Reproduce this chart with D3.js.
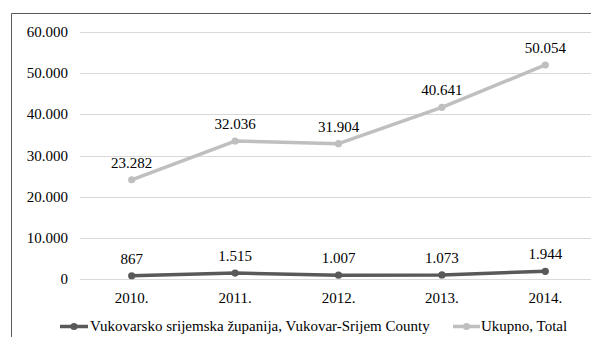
<!DOCTYPE html>
<html><head><meta charset="utf-8">
<script src="https://cdn.jsdelivr.net/npm/d3@7"></script>
<style>body{margin:0;background:#fff}svg{display:block}</style>
</head><body>
<svg id="c" width="591" height="337"></svg>
<script>
const categories = ["2010.", "2011.", "2012.", "2013.", "2014."];
const seriesNames = ["Vukovarsko srijemska županija, Vukovar-Srijem County", "Ukupno, Total"];
const county = [867, 1515, 1007, 1073, 1944];
const total = [23282, 32036, 31904, 40641, 50054];
const yTicks = [0, 10000, 20000, 30000, 40000, 50000, 60000];
const colors = ["#595959", "#bfbfbf"];

const svg = d3.select("#c");
const W = 591, H = 337;
const FS = 15;
const FONT = "Liberation Serif";
const plot = {l: 80, r: 597, t: 32, b: 279.3};
const fmt = v => d3.format(",")(v).replace(/,/g, ".");

svg.append("rect").attr("width", W).attr("height", H).attr("fill", "#fff");
svg.append("path").attr("d", `M11.5,${H}V13.5H${W}`).attr("fill", "none").attr("stroke", "#595959").attr("stroke-width", 1);

const x = d3.scaleBand().domain(categories).range([plot.l, plot.r]);
const y = d3.scaleLinear().domain([0, 60000]).range([plot.b, plot.t]);

function txt(g, tx, ty, s, anchor) {
  return g.append("text").attr("x", tx).attr("y", ty)
    .attr("text-anchor", anchor || "middle").attr("dy", "0.33em")
    .attr("font-family", FONT).attr("fill", "#000")
    .attr("font-size", FS).text(s);
}

svg.append("g").selectAll("line").data(yTicks).join("line")
  .attr("x1", plot.l).attr("x2", plot.r)
  .attr("y1", d => Math.round(y(d)) + 0.5).attr("y2", d => Math.round(y(d)) + 0.5)
  .attr("stroke", "#d9d9d9").attr("stroke-width", 1);

const gy = svg.append("g");
yTicks.forEach(t => txt(gy, 68, y(t), fmt(t), "end"));
const gx = svg.append("g");
categories.forEach(c => txt(gx, x(c) + x.bandwidth() / 2, 298.5, c));

const rows = categories.map((c, i) => ({cat: c, a: county[i], b: total[i]}));
const stack = d3.stack().keys(["a", "b"])(rows);
const line = d3.line().x((d, i) => x(categories[i]) + x.bandwidth() / 2).y(d => y(d[1]));
const labels = [county, total];
stack.forEach((s, k) => {
  svg.append("path").datum(s).attr("d", line).attr("fill", "none")
    .attr("stroke", colors[k]).attr("stroke-width", 3.5).attr("stroke-linejoin", "round");
  svg.append("g").selectAll("circle").data(s).join("circle")
    .attr("cx", (d, i) => x(categories[i]) + x.bandwidth() / 2).attr("cy", d => y(d[1]))
    .attr("r", 3.6).attr("fill", colors[k]);
  const gl = svg.append("g");
  s.forEach((d, i) => txt(gl, x(categories[i]) + x.bandwidth() / 2, y(d[1]) - 17, fmt(labels[k][i])));
});

const leg = [{x0: 60, x1: 88, tx: 90}, {x0: 453, x1: 480, tx: 481}];
leg.forEach((p, k) => {
  const g = svg.append("g");
  g.append("line").attr("x1", p.x0).attr("x2", p.x1).attr("y1", 326.5).attr("y2", 326.5)
    .attr("stroke", colors[k]).attr("stroke-width", 3.5);
  g.append("circle").attr("cx", (p.x0 + p.x1) / 2).attr("cy", 326.5).attr("r", 3.6).attr("fill", colors[k]);
  txt(g, p.tx, 326.5, seriesNames[k], "start");
});
</script>
</body></html>
